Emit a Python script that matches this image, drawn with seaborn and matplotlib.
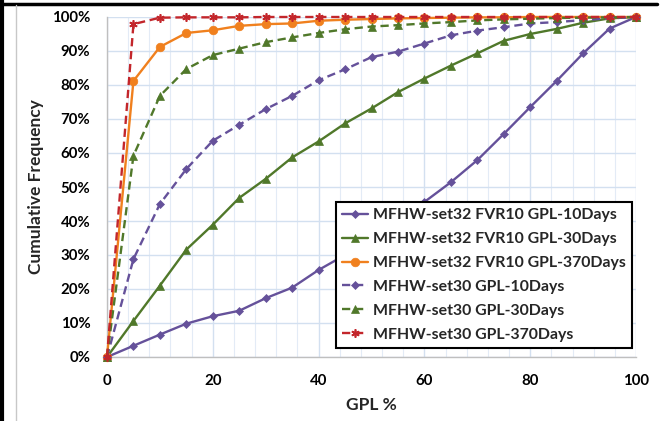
import matplotlib
matplotlib.use("Agg")
import matplotlib.pyplot as plt
import seaborn as sns
import pandas as pd
from matplotlib.lines import Line2D
from matplotlib.ticker import PercentFormatter, MultipleLocator

# GPL % sample points (every 5)
gpl = [0, 5, 10, 15, 20, 25, 30, 35, 40, 45, 50, 55, 60, 65, 70, 75, 80, 85, 90, 95, 100]

labels = [
    "MFHW-set32 FVR10 GPL-10Days",
    "MFHW-set32 FVR10 GPL-30Days",
    "MFHW-set32 FVR10 GPL-370Days",
    "MFHW-set30 GPL-10Days",
    "MFHW-set30 GPL-30Days",
    "MFHW-set30 GPL-370Days",
]

set32_10 = [0, 3.3, 6.6, 9.8, 12.0, 13.6, 17.3, 20.4, 25.6, 30.0, 35.0, 40.2, 45.6,
            51.4, 57.9, 65.6, 73.5, 81.2, 89.3, 96.6, 100]
set32_30 = [0, 10.6, 21.0, 31.6, 38.9, 46.8, 52.4, 58.7, 63.4, 68.7, 73.1, 77.9, 81.9,
            85.7, 89.3, 93.0, 95.0, 96.5, 98.3, 99.6, 100]
set32_370 = [0, 81.2, 91.2, 95.3, 96.1, 97.4, 97.9, 98.1, 98.9, 99.2, 99.4, 99.6, 99.7,
             99.8, 99.9, 99.9, 100, 100, 100, 100, 100]
set30_10 = [0, 28.8, 45.0, 55.3, 63.6, 68.3, 72.9, 76.8, 81.4, 84.6, 88.2, 89.8, 92.2,
            94.6, 96.0, 97.0, 98.1, 98.5, 99.1, 99.6, 100]
set30_30 = [0, 59.2, 76.8, 84.7, 88.8, 90.7, 92.6, 94.0, 95.3, 96.4, 97.2, 97.6, 98.1,
            98.5, 99.0, 99.3, 99.5, 99.7, 99.8, 99.9, 100]
set30_370 = [0, 97.9, 99.8, 99.9, 99.9, 99.9, 100, 100, 100, 100, 100, 100, 100,
             100, 100, 100, 100, 100, 100, 100, 100]

series = [set32_10, set32_30, set32_370, set30_10, set30_30, set30_370]

purple = "#65519A"
green = "#50782A"
orange = "#F0801E"
red = "#C3262B"
dash = (0, (3.5, 2))
styles = [
    dict(color=purple, linestyle="-", marker="D", markersize=4.2),
    dict(color=green, linestyle="-", marker="^", markersize=5.5),
    dict(color=orange, linestyle="-", marker="o", markersize=6.2),
    dict(color=purple, linestyle=dash, marker="D", markersize=4.2),
    dict(color=green, linestyle=dash, marker="^", markersize=5.5),
    dict(color=red, linestyle=dash, marker=(6, 2, 0), markersize=6),
]

sns.set_theme(style="white")
plt.rcParams["font.family"] = ["Lato", "DejaVu Sans"]
plt.rcParams["font.weight"] = "bold"

fig = plt.figure(figsize=(6.66, 4.21), dpi=100)
ax = fig.add_axes([107 / 666, 1 - 357 / 421, (636 - 107) / 666, (357 - 17) / 421])

for lab, vals, st in zip(labels, series, styles):
    df = pd.DataFrame({"GPL": gpl, "freq": vals})
    mew = 1.2 if st["marker"] == (6, 2, 0) else 0.5
    sns.lineplot(data=df, x="GPL", y="freq", ax=ax, label=lab, linewidth=1.7,
                 markeredgecolor=st["color"], markeredgewidth=mew,
                 clip_on=False, zorder=3, **st)

ax.set_xlim(0, 100)
ax.set_ylim(0, 100)
ax.xaxis.set_major_locator(MultipleLocator(20))
ax.xaxis.set_minor_locator(MultipleLocator(4))
ax.yaxis.set_major_locator(MultipleLocator(10))
ax.yaxis.set_major_formatter(PercentFormatter(decimals=0))

ax.grid(which="major", color="#D3E0F0", linewidth=1.0)
ax.grid(which="minor", axis="x", color="#E3EBF6", linewidth=0.8)
ax.set_axisbelow(True)

for s in ["top", "right"]:
    ax.spines[s].set_visible(False)
for s in ["left", "bottom"]:
    ax.spines[s].set_color("#BFBFBF")
    ax.spines[s].set_linewidth(1.0)

ax.tick_params(axis="both", which="major", direction="out", length=5, width=1,
               color="#BFBFBF", labelsize=10.8, pad=7, labelcolor="black")
ax.tick_params(axis="x", which="minor", length=0)

ax.set_xlabel("GPL %", fontsize=12.5, fontweight="bold", labelpad=7)
ax.set_ylabel("Cumulative Frequency", fontsize=12.5, fontweight="bold", labelpad=6)

leg = ax.legend(loc="lower right", bbox_to_anchor=(0.992, 0.026), borderaxespad=0,
                frameon=True, fancybox=False, edgecolor="black", framealpha=1,
                fontsize=11.4, handlelength=1.6, handletextpad=0.3, labelspacing=0.62,
                borderpad=0.4)
leg.get_frame().set_linewidth(1.5)
for t in leg.get_texts():
    t.set_fontweight("bold")

# page borders from the cropped document
fig.add_artist(Line2D([0, 657 / 666], [1 - 3.5 / 421, 1 - 3.5 / 421], color="black",
                      linewidth=2.5, transform=fig.transFigure))
fig.add_artist(Line2D([2 / 666, 2 / 666], [0, 1], color="black", linewidth=3,
                      transform=fig.transFigure))
fig.add_artist(Line2D([15.5 / 666, 15.5 / 666], [0, 1 - 5 / 421], color="#C8C8C8",
                      linewidth=1, transform=fig.transFigure))

fig.savefig("out.png", dpi=100)
